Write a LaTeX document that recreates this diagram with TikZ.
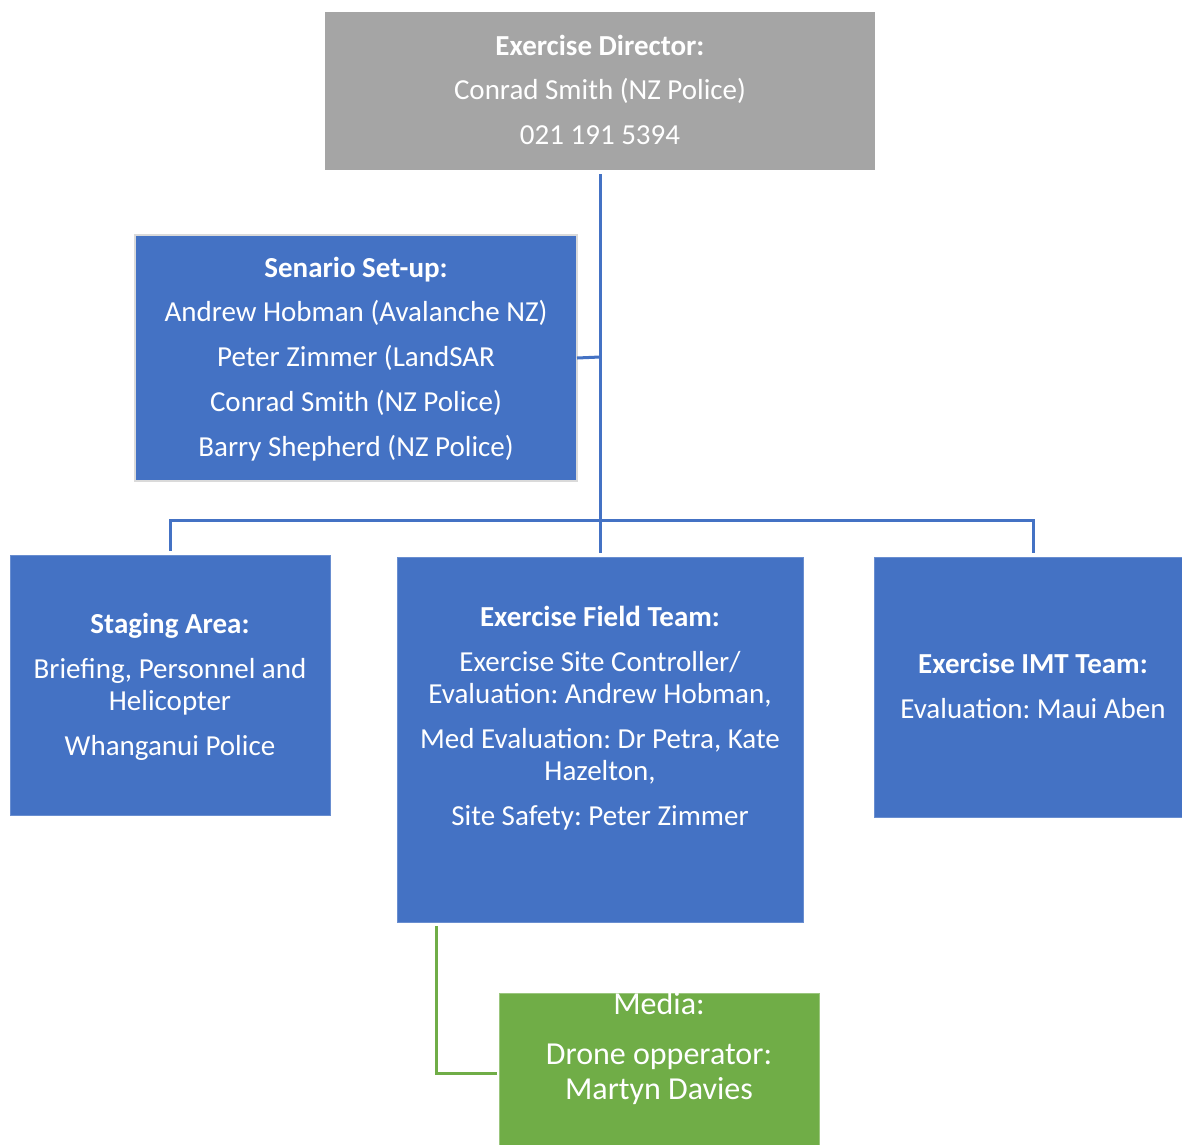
\documentclass[tikz,border=0pt]{standalone}
\usepackage{fontspec}
\setmainfont{Carlito}
\frenchspacing
\definecolor{dirgray}{HTML}{A5A5A5}
\definecolor{boxblue}{HTML}{4472C4}
\definecolor{boxgreen}{HTML}{70AD47}
\definecolor{edgegray}{HTML}{DADADA}
\begin{document}
\begin{tikzpicture}[x=1pt,y=-1pt,
  box/.style={rectangle,inner sep=0pt,outer sep=0pt,anchor=north west},
  txt/.style={text=white,anchor=base,inner sep=0pt,font=\fontsize{29}{31}\selectfont},
  btxt/.style={txt,font=\fontsize{29}{31}\selectfont\bfseries},
  mtxt/.style={txt,font=\fontsize{32}{34}\selectfont},
  bline/.style={draw=boxblue,line width=3pt},
  gline/.style={draw=boxgreen,line width=3pt}]
\useasboundingbox (0,0) rectangle (1182,1144);
\fill[white] (0,0) rectangle (1182,1144);

% boxes
\node[box,fill=dirgray,minimum width=550pt,minimum height=158pt] (dir) at (325,12) {};
\node[box,fill=boxblue,draw=edgegray,line width=2.5pt,minimum width=442pt,minimum height=246pt] (sen) at (135,235) {};
\node[box,fill=boxblue,draw=boxblue!80!white,line width=1pt,minimum width=320pt,minimum height=260pt] (stg) at (10,555) {};
\node[box,fill=boxblue,draw=boxblue!80!white,line width=1pt,minimum width=406pt,minimum height=365pt] (fld) at (397,557) {};
\node[box,fill=boxblue,draw=boxblue!80!white,line width=1pt,minimum width=310pt,minimum height=260pt] (imt) at (874,557) {};
\node[box,fill=boxgreen,draw=boxgreen!70!white,line width=1pt,minimum width=320pt,minimum height=155pt] (med) at (499,993) {};

% texts
\node[btxt] (d1) at (600,55) {Exercise Director:};
\node[txt] (d2) at (600,99) {Conrad Smith (NZ Police)};
\node[txt] (d3) at (600,144) {021 191 5394};

\node[btxt] (s1) at (356,277) {Senario Set-up:};
\node[txt] (s2) at (356,321) {Andrew Hobman (Avalanche NZ)};
\node[txt] (s3) at (356,366) {Peter Zimmer (LandSAR};
\node[txt] (s4) at (356,411) {Conrad Smith (NZ Police)};
\node[txt] (s5) at (356,456) {Barry Shepherd (NZ Police)};

\node[btxt] (g1) at (170,633) {Staging Area:};
\node[txt] (g2) at (170,678) {Briefing, Personnel and};
\node[txt] (g3) at (170,710) {Helicopter};
\node[txt] (g4) at (170,755) {Whanganui Police};

\node[btxt] (f1) at (600,626) {Exercise Field Team:};
\node[txt] (f2) at (600,671) {Exercise Site Controller/};
\node[txt] (f3) at (600,703) {Evaluation: Andrew Hobman,};
\node[txt] (f4) at (600,748) {Med Evaluation: Dr Petra, Kate};
\node[txt] (f5) at (600,780) {Hazelton,};
\node[txt] (f6) at (600,825) {Site Safety: Peter Zimmer};

\node[btxt] (i1) at (1033,673) {Exercise IMT Team:};
\node[txt] (i2) at (1033,718) {Evaluation: Maui Aben};

\node[mtxt] (m1) at (659,1014) {Media:};
\node[mtxt] (m2) at (659,1064) {Drone opperator:};
\node[mtxt] (m3) at (659,1099) {Martyn Davies};

% connectors
\coordinate (bus) at (600,520);
\coordinate (busL) at (170,520);
\coordinate (busR) at (1033,520);
\coordinate (senj) at (600,357);
\draw[bline] ([yshift=-4pt]dir.south) -- (bus);
\draw[bline] (sen.east) -- (senj);
\draw[bline,line cap=rect] (busL) -- (busR);
\draw[bline] (busL) -- ([yshift=4pt]busL |- stg.north);
\draw[bline] (bus) -- ([yshift=4pt]bus |- fld.north);
\draw[bline] (busR) -- ([yshift=4pt]busR |- imt.north);
\coordinate (gtop) at (436,926);
\coordinate (gend) at (497,1073);
\draw[gline] (gtop) |- (gend);
\end{tikzpicture}
\end{document}
